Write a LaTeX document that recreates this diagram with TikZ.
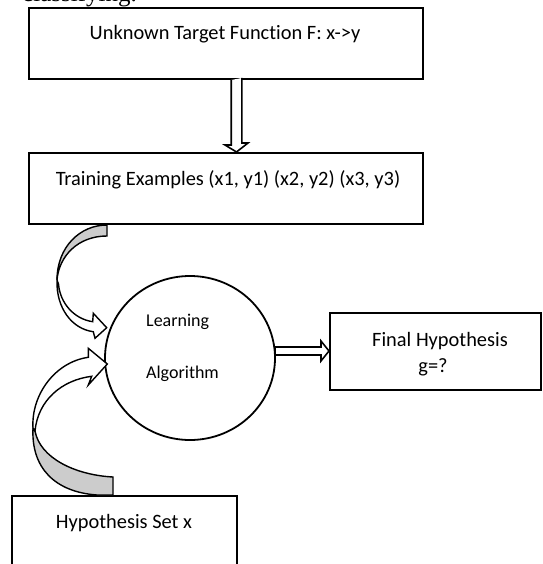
\documentclass[tikz,border=0pt]{standalone}
\usepackage{fontspec}
\setmainfont{Carlito}[Ligatures=NoCommon]
\newfontfamily\bodyserif{Liberation Serif}
\usetikzlibrary{shapes.geometric,calc}

\begin{document}
\begin{tikzpicture}[x=1pt,y=-1pt,
  box/.style={draw, line width=2pt, rectangle, inner sep=0pt},
  lbl/.style={font=\fontsize{20.4}{26}\selectfont, inner sep=0pt, anchor=base},
  smalllbl/.style={font=\fontsize{18}{22}\selectfont, inner sep=0pt, anchor=base west},
  blk/.style={draw, fill=white, line width=1.6pt, line join=miter},
  bandline/.style={draw, line width=1.4pt, line join=miter},
  backband/.style={bandline, fill=black!20},
  frontband/.style={bandline, fill=white}]
\useasboundingbox (0,0) rectangle (542,564);

% running text above the figure
\node[font=\bodyserif\fontsize{25}{30}\selectfont, anchor=base west, inner sep=0pt] (prose) at (22,2) {classifying.};

% boxes
\node[box, minimum width=394pt, minimum height=71pt] (target) at (226,43.5) {};
\node[box, minimum width=394pt, minimum height=71pt] (train) at (226,188.5) {};
\node[box, minimum width=210.5pt, minimum height=77pt] (final) at (435.25,351.5) {};
\node[box, minimum width=225pt, minimum height=94pt] (hyp) at (124.5,543) {};
\node[draw, ellipse, line width=1.8pt, minimum width=170pt, minimum height=164pt, inner sep=0pt] (algo) at (190,358) {};

% labels
\node[lbl] (targetlbl) at (225,39.5) {Unknown Target Function F: x->y};
\node[lbl] (trainlbl) at (228,185) {Training Examples (x1, y1) (x2, y2) (x3, y3)};
\node[lbl] (finallbl) at (440,346) {Final Hypothesis};
\node[lbl] (finalval) at (433,372) {g=?};
\node[lbl] (hyplbl) at (124,528) {Hypothesis Set x};
\node[smalllbl] (learnlbl) at (146,326) {Learning};
\node[smalllbl] (alglbl) at (146,378) {Algorithm};

% block arrow: target function -> training examples
\coordinate (dB) at ($(train.north)+(10.5,0)$);
\coordinate (dA) at (target.south -| dB);
\draw[blk] (dA) ++(-5.3,0) -- ++(0,65) -- ++(-6.2,0) -- (dB) -- ++(11.5,-9) -- ++(-6.2,0) -- ++(0,-65);

% block arrow: learning algorithm -> final hypothesis
\coordinate (hB) at ($(final.west)+(0,-0.5)$);
\coordinate (hA) at ($(hB)+(-54,0)$);
\draw[blk] (hA) ++(0,-4) -- ++(46,0) -- ++(0,-6) -- (hB) -- ++(-8,10) -- ++(0,-6) -- ++(-46,0) -- cycle;

% curved arrow: training examples -> learning algorithm
\filldraw[backband] (107,225) .. controls (80,225) and (57,247) .. (57,280)
  .. controls (59,256) and (78,236) .. (107,236) -- cycle;
\filldraw[frontband] (57,280) .. controls (56,308) and (72,329) .. (93.3,331.7)
  -- (95,338.3) -- (106.7,327.7) -- (93.3,313.3) -- (92.7,321.7)
  .. controls (74,319) and (60,303) .. (58.5,284) -- cycle;

% curved arrow: hypothesis set -> learning algorithm
\filldraw[backband] (113,477) .. controls (75,475) and (40,458) .. (35,431) -- (33,428)
  .. controls (31,468) and (55,492) .. (97,495) -- (113,495) -- cycle;
\filldraw[frontband] (33,428) .. controls (31,395) and (55,362) .. (88.3,357.3)
  -- (88.3,348.3) -- (107.3,364) -- (88.3,385) -- (91.7,376.3)
  .. controls (62,380) and (38,400) .. (35,431) -- cycle;
\end{tikzpicture}
\end{document}
